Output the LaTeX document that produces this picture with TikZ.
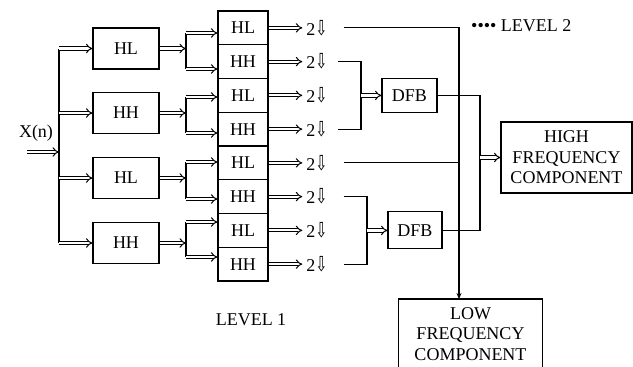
\documentclass[tikz,border=0pt]{standalone}
\usepackage{fontspec}
\setmainfont{Liberation Serif}
\newfontfamily\symfont{DejaVu Sans}
\usetikzlibrary{arrows.meta}
\begin{document}
\begin{tikzpicture}[x=1pt,y=-1pt,
  txt/.style={font=\fontsize{18}{20.5}\selectfont},
  box/.style={draw, line width=1.1pt, inner sep=0pt, txt, align=center},
  dar/.style={double, double distance=2.2pt, line width=1pt, -{Implies}},
  ln/.style={line width=1.1pt},
  lbl/.style={txt, inner sep=0pt}]
\useasboundingbox (0,0) rectangle (633,367);
\clip (0,0) rectangle (633,367);
% left level boxes
\node[box, minimum width=66pt, minimum height=41pt] (a1) at (126,48.5) {HL};
\node[box, minimum width=66pt, minimum height=41pt] (a2) at (126,113) {HH};
\node[box, minimum width=66pt, minimum height=41pt] (a3) at (126,178) {HL};
\node[box, minimum width=66pt, minimum height=41pt] (a4) at (126,243) {HH};
% right column boxes and decimators
\foreach \i/\t in {1/HL,2/HH,3/HL,4/HH,5/HL,6/HH,7/HL,8/HH}{
  \node[box, minimum width=50pt, minimum height=33.75pt] (b\i) at (243,{11+33.75*(\i-0.5)}) {\t};
  \node[lbl] (d\i) at (317,{11+33.75*(\i-0.5)}) {2{\symfont\scalebox{0.8}[1.15]{⇩}}};
  \draw[dar] (b\i.east) -- ([xshift=-4pt]d\i.west);
}
% input
\node[lbl] (xn) at (36,133) {X(n)};
\coordinate (in) at (27,152);
\coordinate (bus) at (59,152);
\draw[dar] (in) -- (bus);
\draw[ln] (bus |- a1) -- (bus |- a4);
\foreach \k in {1,...,4} \draw[dar] (bus |- a\k) -- (a\k.west);
% splitters
\coordinate (p1) at (186,33);  \coordinate (p2) at (186,69);
\coordinate (p3) at (186,97);  \coordinate (p4) at (186,133);
\coordinate (p5) at (186,162); \coordinate (p6) at (186,199);
\coordinate (p7) at (186,222); \coordinate (p8) at (186,257);
\draw[ln] (p1) -- (p2); \draw[ln] (p3) -- (p4);
\draw[ln] (p5) -- (p6); \draw[ln] (p7) -- (p8);
\draw[dar] (a1.east) -- (a1.east -| p1);
\draw[dar] (a2.east) -- (a2.east -| p3);
\draw[dar] (a3.east) -- (a3.east -| p5);
\draw[dar] (a4.east) -- (a4.east -| p7);
\foreach \i in {1,...,8} \draw[dar] (p\i) -- (b\i.west |- p\i);
% DFB boxes
\node[box, minimum width=55pt, minimum height=34pt] (f1) at (409.5,95.4) {DFB};
\node[box, minimum width=54pt, minimum height=37pt] (f2) at (415,230.4) {DFB};
\node[box, minimum width=131pt, minimum height=71pt] (high) at (566.5,157.5) {HIGH\\FREQUENCY\\COMPONENT};
\node[lbl, align=center, minimum width=143pt, anchor=north, inner ysep=12pt] (low) at (470.5,295) {LOW\\FREQUENCY\\COMPONENT};
\coordinate (lownw) at ([yshift=-4pt]low.north west);
\coordinate (lowne) at ([yshift=-4pt]low.north east);
\draw[ln] ([yshift=-20pt]low.south west) -- (lownw) -- (lowne) -- ([yshift=-20pt]low.south east);
% low-frequency path
\coordinate (v) at (459,0);
\draw[ln, -{Stealth[length=6pt,width=5pt]}] ([xshift=16pt]d1.east) -- (d1.east -| v) -- (v |- lownw);
\draw[ln] ([xshift=16pt]d5.east) -- (d5.east -| v);
% bracket 1
\coordinate (k1) at (361,0);
\draw[ln] ([xshift=10pt]d2.east) -- (d2.east -| k1) -- (d4.east -| k1) -- ([xshift=10pt]d4.east);
\draw[dar] (k1 |- f1) -- (f1.west);
% bracket 2
\coordinate (k2) at (367,0);
\draw[ln] ([xshift=16pt]d6.east) -- (d6.east -| k2) -- (d8.east -| k2) -- ([xshift=16pt]d8.east);
\draw[dar] (k2 |- f2) -- (f2.west);
% collector to high frequency
\coordinate (c) at (480,0);
\draw[ln] (f1.east) -- (f1.east -| c) -- (f2.east -| c) -- (f2.east);
\draw[dar] (c |- high) -- (high.west);
% level labels
\node[lbl] (lev1) at (251,320) {LEVEL 1};
\node[lbl, anchor=west] (lev2) at (471,26) {•••• LEVEL 2};
\end{tikzpicture}
\end{document}
